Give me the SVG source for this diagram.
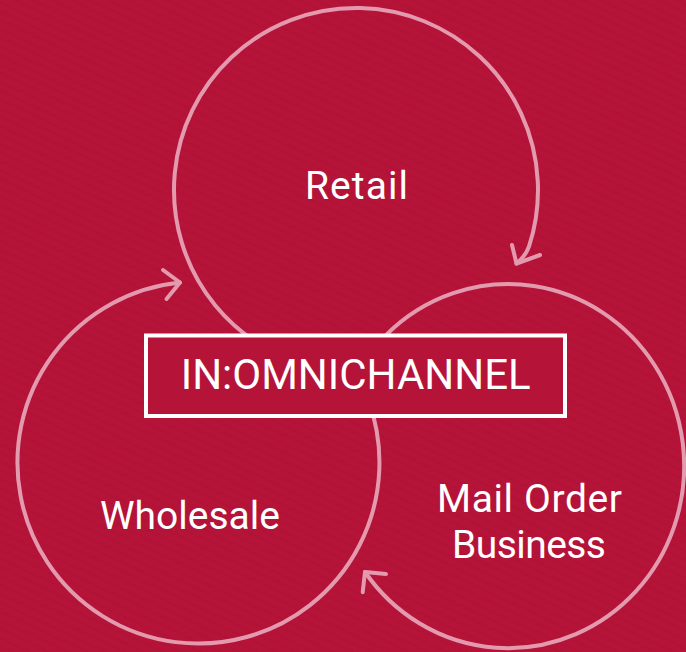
<svg xmlns="http://www.w3.org/2000/svg" width="686" height="652" viewBox="0 0 686 652">
  <defs>
    <pattern id="tex" width="8" height="8" patternUnits="userSpaceOnUse" patternTransform="rotate(25)">
      <rect width="8" height="8" fill="#b51338"/>
      <path d="M0 2 Q2 0.8 4 2 T8 2" fill="none" stroke="#a80f32" stroke-width="1.2" opacity="0.45"/>
    </pattern>
    <style>
      .ring{fill:none;stroke:#e39aae;stroke-width:4;stroke-linecap:round;stroke-linejoin:round}
      .lbl{font-family:Roboto,"Open Sans","DejaVu Sans",sans-serif;font-size:39px;fill:#ffffff}
      .ttl{font-family:Roboto,"Open Sans","DejaVu Sans",sans-serif;font-size:42px;fill:#ffffff}
    </style>
  </defs>
  <rect x="0" y="0" width="686" height="652" fill="url(#tex)"/>

  <g id="connectors">
    <path class="ring" d="M265 347.6 A182 182 0 1 1 529.1 246.2 Q526 255.7 516.5 263.5"/>
    <polyline class="ring" points="512,245 516.5,263.5 540,255"/>
    <path class="ring" d="M368.3 400 A181 181 0 1 1 180 282.5"/>
    <polyline class="ring" points="163,270 180,282.5 166.5,299"/>
    <path class="ring" d="M344.2 400 A176 182 0 1 1 365 572"/>
    <polyline class="ring" points="386,574 365,572 362.7,592.3"/>
  </g>

  <g id="retail">
    <text class="lbl" x="305" y="199" textLength="103" lengthAdjust="spacing">Retail</text>
  </g>
  <g id="wholesale">
    <text class="lbl" x="100" y="529.3" textLength="180" lengthAdjust="spacing">Wholesale</text>
  </g>
  <g id="mailorder">
    <text class="lbl" x="437" y="511.7" textLength="185" lengthAdjust="spacing">Mail Order</text>
    <text class="lbl" x="452" y="558.3" textLength="154" lengthAdjust="spacing">Business</text>
  </g>
  <g id="center">
    <rect x="146" y="335.5" width="419" height="80.5" fill="#b51338" stroke="#ffffff" stroke-width="4"/>
    <text class="ttl" x="180.7" y="389.3" textLength="350" lengthAdjust="spacing">IN:OMNICHANNEL</text>
  </g>
</svg>
